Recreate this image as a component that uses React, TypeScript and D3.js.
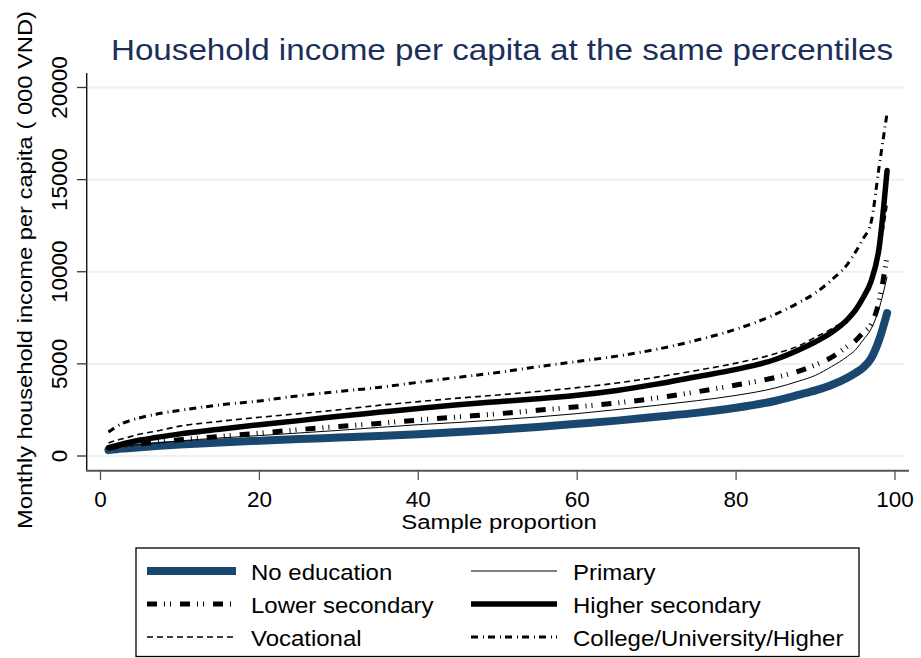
import React from "react";
import * as d3 from "d3";

// Percentile positions (sample proportion) at which incomes are read
const percentiles = [1, 2, 3, 5, 7, 10, 15, 20, 25, 30, 35, 40, 45, 50, 55, 60, 65, 70, 75, 80, 85, 88, 90, 92, 94, 95, 96, 97, 98, 99];

// Monthly household income per capita ('000 VND) by education level of household head
const noEducation = [320, 370, 410, 480, 540, 620, 730, 830, 920, 1000, 1080, 1180, 1300, 1430, 1580, 1750, 1920, 2130, 2340, 2620, 3000, 3330, 3560, 3850, 4250, 4500, 4800, 5300, 6300, 7750];
const primary = [380, 450, 520, 620, 700, 820, 980, 1110, 1250, 1390, 1550, 1700, 1820, 1960, 2120, 2300, 2520, 2750, 3000, 3290, 3700, 4080, 4380, 4850, 5400, 5750, 6300, 6900, 8000, 9730];
const lowerSecondary = [420, 500, 570, 660, 750, 880, 1060, 1240, 1430, 1600, 1770, 1950, 2120, 2290, 2480, 2670, 2880, 3150, 3480, 3850, 4270, 4620, 4950, 5350, 5950, 6250, 6700, 7150, 8400, 10870];
const higherSecondary = [450, 560, 680, 870, 1000, 1200, 1450, 1700, 1920, 2160, 2370, 2580, 2780, 2950, 3110, 3300, 3560, 3900, 4300, 4700, 5250, 5780, 6200, 6700, 7400, 7900, 8600, 9500, 11300, 15500];
const vocational = [700, 850, 960, 1190, 1350, 1620, 1880, 2100, 2300, 2510, 2750, 2950, 3140, 3310, 3500, 3710, 3960, 4280, 4640, 5040, 5560, 6000, 6450, 6900, 7500, 8000, 8700, 9600, 11000, 13600];
const college = [1300, 1600, 1810, 2080, 2270, 2480, 2770, 2990, 3270, 3500, 3720, 4000, 4270, 4530, 4840, 5130, 5420, 5790, 6280, 6880, 7700, 8350, 8850, 9550, 10400, 11050, 11800, 12700, 15700, 18600];

const seriesNames = ["No education", "Primary", "Lower secondary", "Higher secondary", "Vocational", "College/University/Higher"];
const seriesValues = [noEducation, primary, lowerSecondary, higherSecondary, vocational, college];

const xTicks = [0, 20, 40, 60, 80, 100];
const yTicks = [0, 5000, 10000, 15000, 20000];

const titleText = "Household income per capita at the same percentiles";
const xTitle = "Sample proportion";
const yTitle = "Monthly household income per capita ( 000 VND)";

type LineStyle = { stroke: string; width: number; dash?: string; cap: "round" | "butt" };

const styles: LineStyle[] = [
  { stroke: "#1a476f", width: 8, cap: "round" },
  { stroke: "#000", width: 1, cap: "butt" },
  { stroke: "#000", width: 5, dash: "10 7 1 5 1 9", cap: "butt" },
  { stroke: "#000", width: 5.5, cap: "round" },
  { stroke: "#000", width: 1.6, dash: "6 4", cap: "butt" },
  { stroke: "#000", width: 3, dash: "7 5 1 4", cap: "butt" },
];

const FONT = "'Liberation Sans', Arial, Helvetica, sans-serif";

export default function App() {
  const W = 921;
  const H = 658;
  const x = d3.scaleLinear().domain([0, 100]).range([100.5, 895]);
  const y = d3.scaleLinear().domain([0, 20000]).range([456, 87.5]);

  const line = d3
    .line<[number, number]>()
    .x((d) => x(d[0]))
    .y((d) => y(d[1]))
    .curve(d3.curveMonotoneX);

  const axisLeft = 86.7;
  const axisBottom = 470.7;

  // legend layout: two columns, three rows
  const legendRows = [571, 604, 637];
  const legendCols = [
    { x0: 147, x1: 236, tx: 251 },
    { x0: 471, x1: 557, tx: 573 },
  ];

  return (
    <svg width={W} height={H} style={{ position: "absolute", left: 0, top: 0, background: "#fff" }} fontFamily={FONT}>
      <rect x={0} y={0} width={W} height={H} fill="#fff" />

      {/* horizontal grid */}
      {yTicks.map((t) => (
        <line key={"g" + t} x1={axisLeft} x2={905} y1={y(t)} y2={y(t)} stroke="#eaf2f3" strokeWidth={2} />
      ))}

      {/* series */}
      {seriesValues.map((vals, i) => {
        const pts = percentiles.map((p, j) => [p, vals[j]] as [number, number]);
        const s = styles[i];
        return (
          <path
            key={seriesNames[i]}
            d={line(pts) || ""}
            fill="none"
            stroke={s.stroke}
            strokeWidth={s.width}
            strokeDasharray={s.dash}
            strokeLinecap={s.cap}
            strokeLinejoin="round"
          />
        );
      })}

      {/* axes */}
      <line x1={axisLeft} x2={axisLeft} y1={73} y2={axisBottom} stroke="#111" strokeWidth={1.4} />
      <line x1={axisLeft - 0.7} x2={909} y1={axisBottom} y2={axisBottom} stroke="#555" strokeWidth={2} />

      {yTicks.map((t) => (
        <g key={"yt" + t}>
          <line x1={77} x2={axisLeft} y1={y(t)} y2={y(t)} stroke="#333" strokeWidth={1.3} />
          <text
            transform={`translate(66.7,${y(t)}) rotate(-90)`}
            textAnchor="middle"
            fontSize={22.5}
            fill="#000"
          >
            {t}
          </text>
        </g>
      ))}

      {xTicks.map((t) => (
        <g key={"xt" + t}>
          <line x1={x(t)} x2={x(t)} y1={axisBottom} y2={480} stroke="#555" strokeWidth={1.3} />
          <text x={x(t)} y={506.7} textAnchor="middle" fontSize={22.5} fill="#000">
            {t}
          </text>
        </g>
      ))}

      {/* titles */}
      <text transform="translate(502,60) scale(1.145,1)" textAnchor="middle" fontSize={29} fill="#1c2f5a">
        {titleText}
      </text>
      <text transform="translate(499,529) scale(1.14,1)" textAnchor="middle" fontSize={21} fill="#000">
        {xTitle}
      </text>
      <text transform="translate(32,270) rotate(-90) scale(1.13,1)" textAnchor="middle" fontSize={21} fill="#000">
        {yTitle}
      </text>

      {/* legend */}
      <rect x={136} y={548} width={723} height={108.5} fill="#fff" stroke="#000" strokeWidth={1.3} />
      {seriesNames.map((name, i) => {
        const col = legendCols[i % 2];
        const row = legendRows[Math.floor(i / 2)];
        const s = styles[i];
        return (
          <g key={"lg" + name}>
            <line
              x1={col.x0}
              x2={col.x1}
              y1={row}
              y2={row}
              stroke={s.stroke}
              strokeWidth={s.width}
              strokeDasharray={s.dash}
              strokeLinecap="butt"
            />
            <text transform={`translate(${col.tx},${row + 8.5}) scale(1.09,1)`} fontSize={22} fill="#000">
              {name}
            </text>
          </g>
        );
      })}
    </svg>
  );
}
